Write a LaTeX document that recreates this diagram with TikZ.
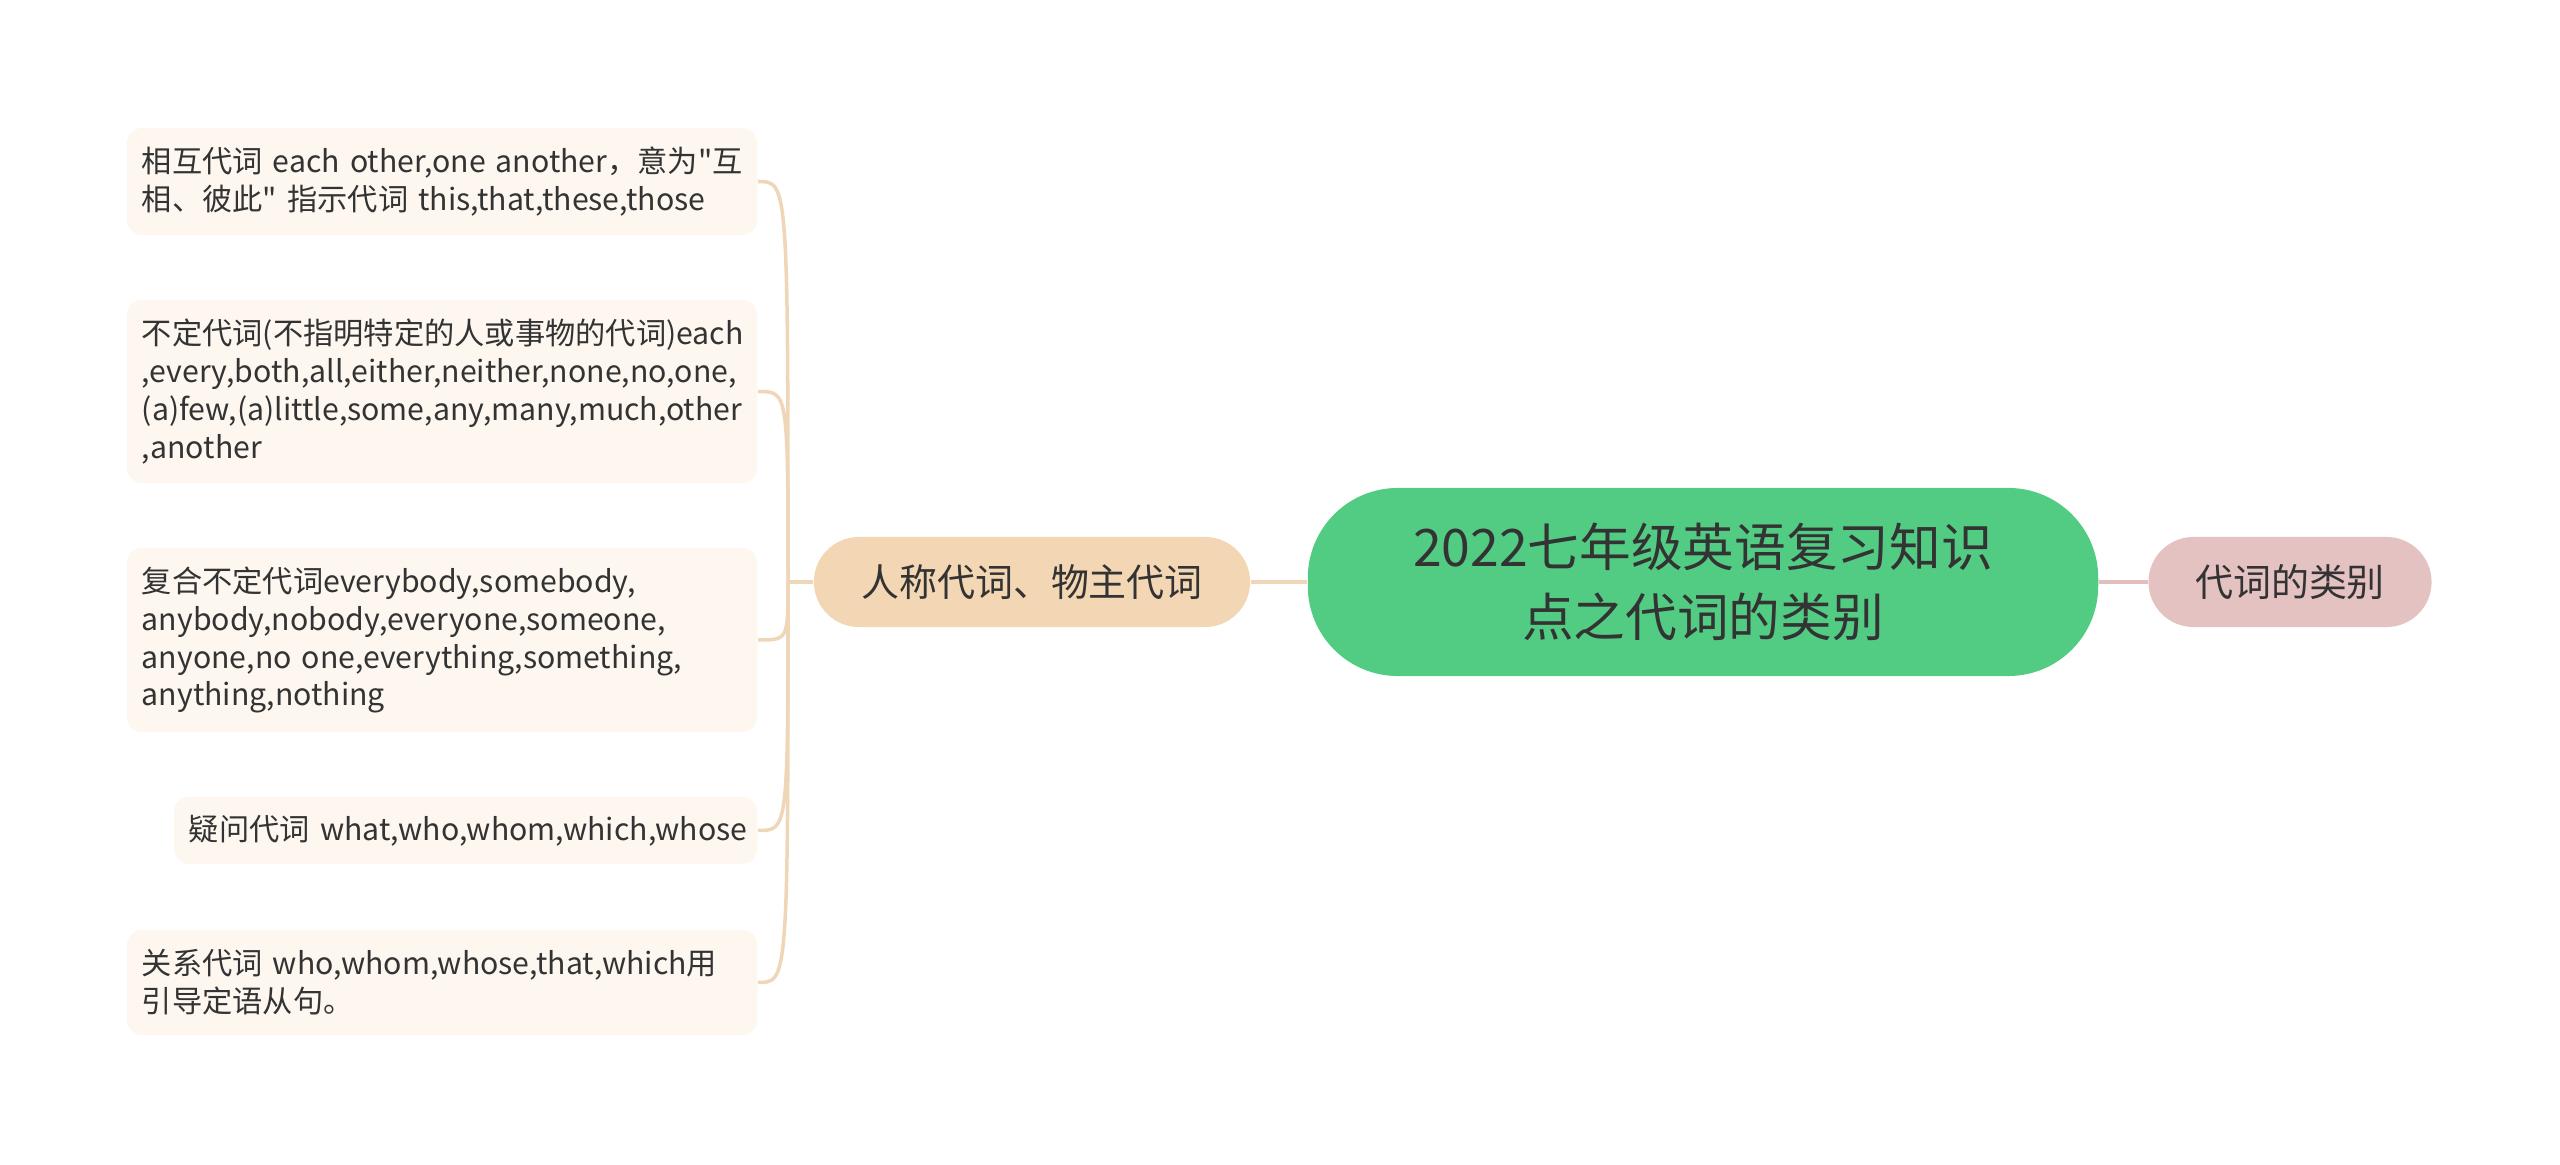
\documentclass[tikz,border=0pt]{standalone}
\usepackage{fontspec}
\setmainfont{Noto Sans CJK SC}
\newfontfamily\plainfont{Noto Sans CJK SC}
\usepackage{xcolor}
\usetikzlibrary{positioning}

\definecolor{rootgreen}{RGB}{82,204,131}
\definecolor{peachfill}{RGB}{243,214,180}
\definecolor{peachline}{RGB}{240,214,184}
\definecolor{pinkfill}{RGB}{229,194,194}
\definecolor{pinkline}{RGB}{226,190,190}
\definecolor{leaffill}{RGB}{253,247,240}
\definecolor{textgray}{RGB}{51,51,51}
\newcommand{\qt}{{\plainfont"}}

\begin{document}
\begin{tikzpicture}[x=0.01cm,y=-0.01cm,
    root/.style={fill=rootgreen, rounded corners=0.9cm, minimum width=7.9cm,
      minimum height=1.88cm, align=center, text=textgray,
      font=\fontsize{14.7}{20}\selectfont},
    sub/.style={rounded corners=0.45cm, minimum height=0.9cm, text=textgray,
      font=\fontsize{10.8}{13}\selectfont},
    leaf/.style={fill=leaffill, rounded corners=0.15cm, text width=6cm,
      inner xsep=0.15cm, inner ysep=0.1cm, align=left, anchor=east, text=textgray,
      font=\fontsize{8.6}{10.8}\selectfont}]
  \useasboundingbox (0,0) rectangle (2560,1165);

  % main nodes
  \node[root] (root) at (1703,582) {2022七年级英语复习知识\\点之代词的类别};
  \node[sub, fill=peachfill, minimum width=4.36cm] (personal) at (1032,582) {人称代词、物主代词};
  \node[sub, fill=pinkfill, minimum width=2.83cm] (kind) at (2290,582) {代词的类别};

  \draw[peachline, line width=1.1pt] (root) -- (personal);
  \draw[pinkline, line width=1.1pt] (root) -- (kind);

  % leaves
  \node[leaf, minimum height=1.07cm] (mutual) at (758,181.5)
    {\mbox{相互代词 each other,one another，意为\qt 互}\\\mbox{相、彼此\qt{} 指示代词 this,that,these,those}};
  \node[leaf, minimum height=1.83cm] (indef) at (758,391.5)
    {\mbox{不定代词(不指明特定的人或事物的代词)each}\\\mbox{,every,both,all,either,neither,none,no,one,}\\\mbox{(a)few,(a)little,some,any,many,much,other}\\\mbox{,another}};
  \node[leaf, minimum height=1.84cm] (compound) at (758,640)
    {\mbox{复合不定代词everybody,somebody,}\\\mbox{anybody,nobody,everyone,someone,}\\\mbox{anyone,no one,everything,something,}\\\mbox{anything,nothing}};
  \node[leaf, text width=5.53cm, minimum height=0.67cm] (interrog) at (758,830.5)
    {\mbox{疑问代词 what,who,whom,which,whose}};
  \node[leaf, minimum height=1.05cm] (relative) at (758,982.5)
    {\mbox{关系代词 who,whom,whose,that,which用}\\\mbox{引导定语从句。}};

  % bracket
  \coordinate (fork) at (788,582);
  \draw[peachline, line width=1pt] (personal.west) -- (fork);
  \foreach \n in {mutual,indef,compound,interrog,relative}
    \draw[peachline, line width=1pt] (fork) .. controls (fork |- \n.east) .. (\n.east);
\end{tikzpicture}
\end{document}
